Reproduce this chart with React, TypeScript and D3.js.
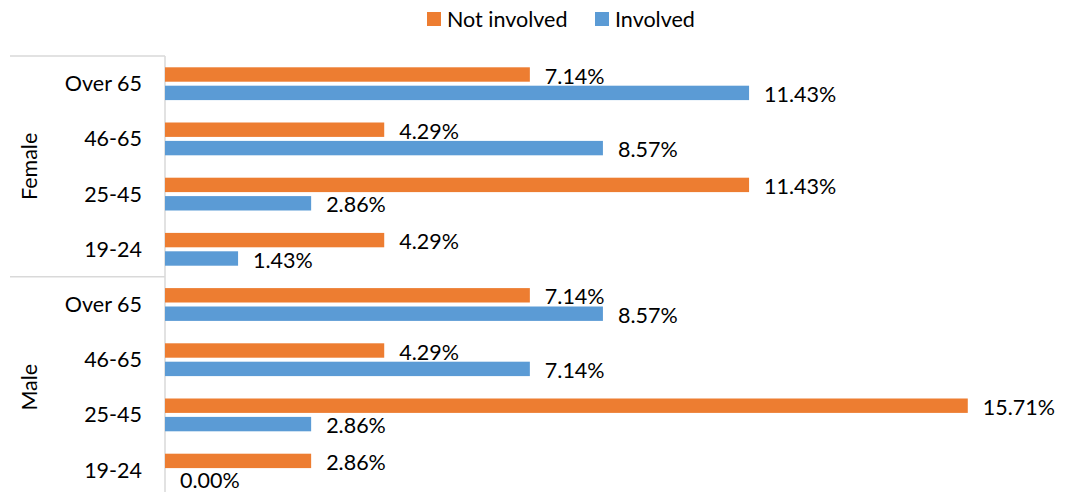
import React from "react";
import * as d3 from "d3";

const categories = ["Over 65", "46-65", "25-45", "19-24"];
const groups = ["Female", "Male"];
const notInvolvedFemale = [7.14, 4.29, 11.43, 4.29];
const involvedFemale = [11.43, 8.57, 2.86, 1.43];
const notInvolvedMale = [7.14, 4.29, 15.71, 2.86];
const involvedMale = [8.57, 7.14, 2.86, 0.0];
const seriesNames = ["Not involved", "Involved"];
const colors = ["#ED7D31", "#5B9BD5"];

type Row = { key: string; group: string; cat: string; not: number; inv: number };

const rows: Row[] = [];
groups.forEach((g, gi) => {
  const nv = gi === 0 ? notInvolvedFemale : notInvolvedMale;
  const iv = gi === 0 ? involvedFemale : involvedMale;
  categories.forEach((c, ci) => {
    rows.push({ key: g + "|" + c, group: g, cat: c, not: nv[ci], inv: iv[ci] });
  });
});

export default function App() {
  const W = 1065;
  const H = 492;
  const top = 56;
  const bandH = 55.2;
  const x0 = 165;
  const y = d3
    .scaleBand<string>()
    .domain(rows.map((r) => r.key))
    .range([top, top + bandH * rows.length])
    .padding(0);
  const x = d3.scaleLinear().domain([0, 16]).range([x0, x0 + 16 * 51.1]);
  const barH = 14.4;
  const font = "Lato, 'Open Sans', sans-serif";
  const fs = 21.5;
  const grid = "#d9d9d9";
  const fmt = (v: number) => v.toFixed(2) + "%";

  const groupSpan = (g: string) => {
    const keys = rows.filter((r) => r.group === g).map((r) => r.key);
    const a = y(keys[0])!;
    const b = y(keys[keys.length - 1])! + y.bandwidth();
    return [a, b];
  };

  return (
    <svg
      width={W}
      height={H}
      style={{ position: "absolute", left: 0, top: 0, background: "#fff" }}
      fontFamily={font}
    >
      {/* legend */}
      <g>
        <rect x={427} y={12} width={14} height={14} fill={colors[0]} />
        <text x={447} y={19} dominantBaseline="central" fontSize={fs} fill="#000">
          {seriesNames[0]}
        </text>
        <rect x={595} y={12} width={14} height={14} fill={colors[1]} />
        <text x={615} y={19} dominantBaseline="central" fontSize={fs} fill="#000">
          {seriesNames[1]}
        </text>
      </g>

      {/* axis lines */}
      <line x1={x0} x2={x0} y1={top} y2={H} stroke={grid} strokeWidth={1.5} />
      <line x1={10} x2={x0} y1={top} y2={top} stroke={grid} strokeWidth={1.5} />
      <line
        x1={10}
        x2={x0}
        y1={groupSpan("Female")[1]}
        y2={groupSpan("Female")[1]}
        stroke={grid}
        strokeWidth={1.5}
      />

      {/* bars */}
      {rows.map((r) => {
        const cy = y(r.key)! + y.bandwidth() / 2;
        const oy = cy - 16.3;
        const by = cy + 2.1;
        return (
          <g key={r.key}>
            <rect x={x(0)} y={oy} width={x(r.not) - x(0)} height={barH} fill={colors[0]} />
            <rect x={x(0)} y={by} width={x(r.inv) - x(0)} height={barH} fill={colors[1]} />
            <text
              x={x(r.not) + 15}
              y={oy + barH / 2 + 1}
              dominantBaseline="central"
              fontSize={fs}
              fill="#000"
            >
              {fmt(r.not)}
            </text>
            <text
              x={x(r.inv) + 15}
              y={by + barH / 2 + 1}
              dominantBaseline="central"
              fontSize={fs}
              fill="#000"
            >
              {fmt(r.inv)}
            </text>
            <text
              x={142}
              y={cy - 0.5}
              textAnchor="end"
              dominantBaseline="central"
              fontSize={fs}
              fill="#000"
            >
              {r.cat}
            </text>
          </g>
        );
      })}

      {/* group labels */}
      {groups.map((g) => {
        const [a, b] = groupSpan(g);
        const cy = (a + b) / 2;
        return (
          <text
            key={g}
            transform={`translate(29,${cy}) rotate(-90)`}
            textAnchor="middle"
            dominantBaseline="central"
            fontSize={fs}
            fill="#000"
          >
            {g}
          </text>
        );
      })}
    </svg>
  );
}
